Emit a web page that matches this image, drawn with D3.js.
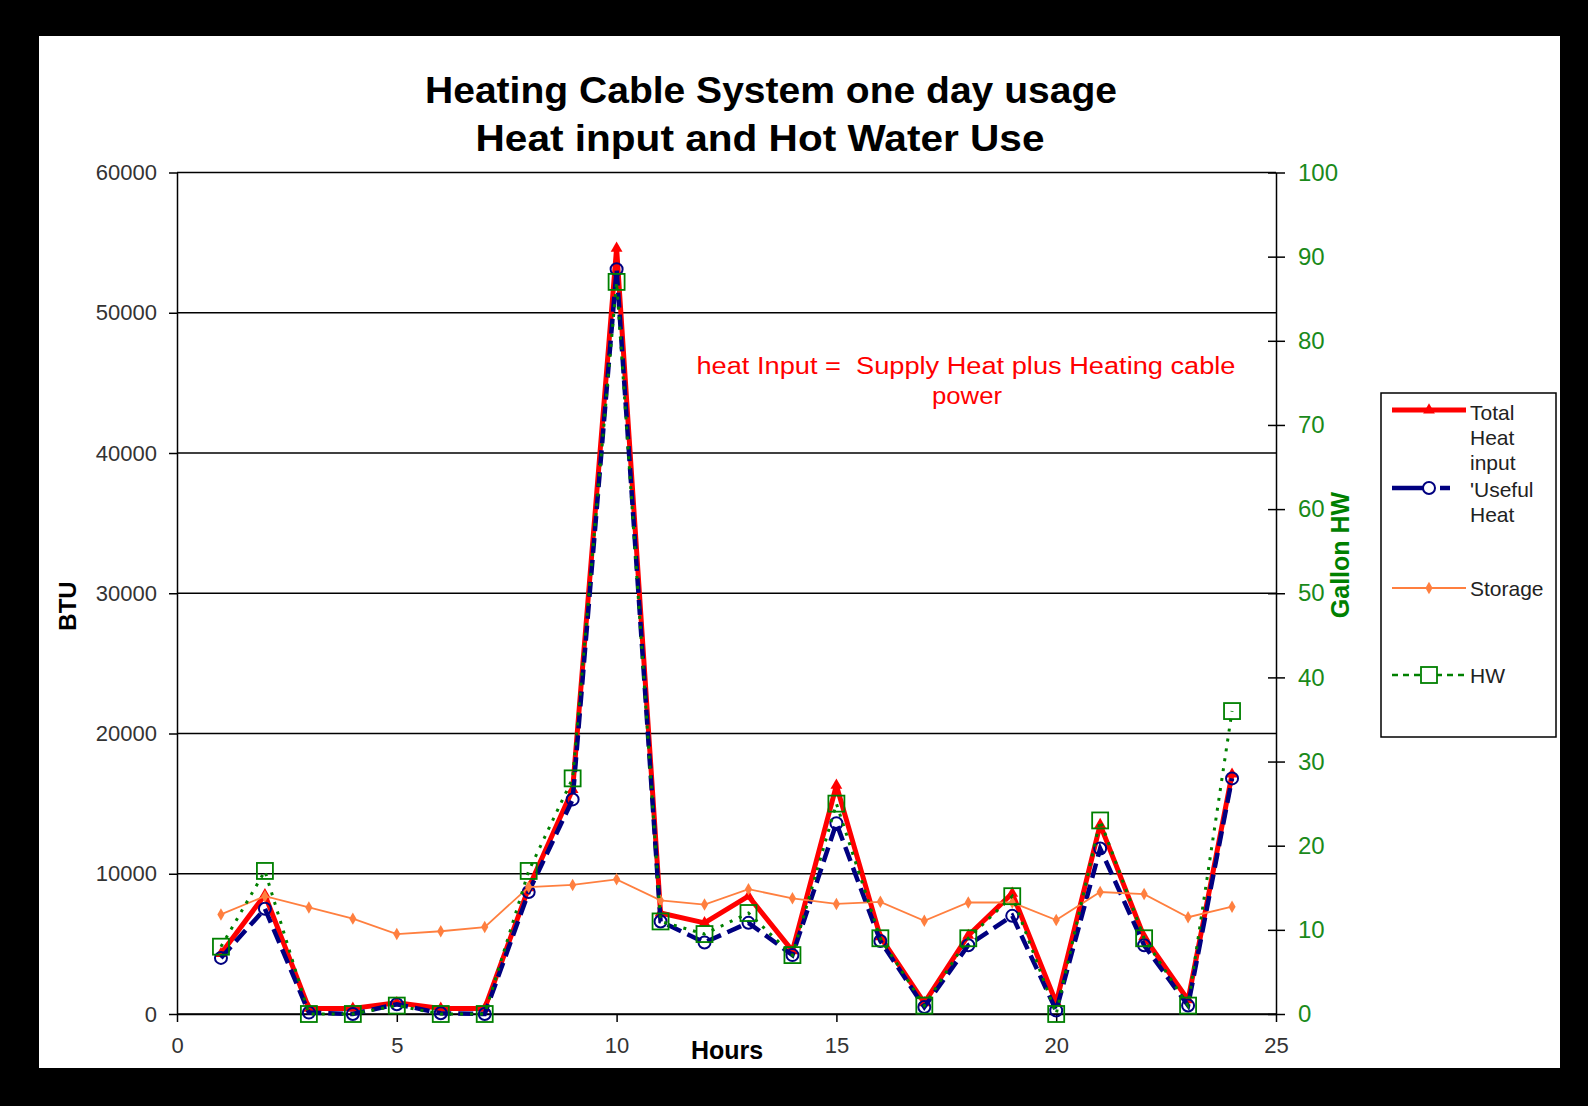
<!DOCTYPE html>
<html><head><meta charset="utf-8">
<script src="https://cdn.jsdelivr.net/npm/d3@7"></script>
<style>html,body{margin:0;padding:0;background:#000;} svg{display:block;}</style>
</head><body>
<svg id="chart" width="1588" height="1106"></svg>
<script>
const hours      = [1,2,3,4,5,6,7,8,9,10,11,12,13,14,15,16,17,18,19,20,21,22,23,24];
const totalHeat  = [4300,8500,400,400,800,400,400,9000,16000,54600,7200,6500,8400,4500,16300,5500,800,5600,8600,800,13500,5500,1000,17100];
const usefulHeat = [4000,7500,100,0,700,50,0,8700,15300,53100,6600,5100,6500,4200,13600,5200,500,4900,7000,250,11800,4900,600,16800];
const storage    = [7100,8400,7600,6800,5700,5900,6200,9050,9200,9600,8100,7800,8900,8250,7850,8000,6650,7950,7950,6700,8700,8550,6900,7650];
const hotWater   = [8,17,0,0,1,0,0,17,28,87,11,9.5,12,7,25,9,1,9,14,0,23,9,1,36];
const btuTicks    = [0,10000,20000,30000,40000,50000,60000];
const gallonTicks = [0,10,20,30,40,50,60,70,80,90,100];
const hourTicks   = [0,5,10,15,20,25];

const FONT = "'Liberation Sans', Arial, sans-serif";
const RED = "#ff0000", NAVY = "#000080", ORANGE = "#ff7f3f", GREEN = "#008000";

const svg = d3.select("#chart");
svg.append("rect").attr("width",1588).attr("height",1106).attr("fill","#000");
svg.append("rect").attr("x",39).attr("y",36).attr("width",1521).attr("height",1032).attr("fill","#fff");

const L=177, R=1276, T=172.5, B=1014;
const x  = d3.scaleLinear().domain([0,25]).range([L,R]);
const yL = d3.scaleLinear().domain([0,60000]).range([B,T]);
const yR = d3.scaleLinear().domain([0,100]).range([B,T]);

// gridlines
svg.append("g").selectAll("line").data(btuTicks).join("line")
  .attr("x1",L).attr("x2",R).attr("y1",d=>yL(d)).attr("y2",d=>yL(d))
  .attr("stroke","#000").attr("stroke-width",1.5);

function styleAxis(g, color){
  g.select(".domain").attr("stroke","#000").attr("stroke-width",1.5);
  g.selectAll(".tick line").attr("stroke","#000").attr("stroke-width",1.5);
  g.selectAll(".tick text").attr("fill",color).style("font-family",FONT);
}
const gl = svg.append("g").attr("transform",`translate(${L},0)`)
  .call(d3.axisLeft(yL).tickValues(btuTicks).tickSize(8).tickPadding(12).tickFormat(d3.format("d")).tickSizeOuter(0));
styleAxis(gl,"#333");
gl.selectAll(".tick text").style("font-size","22px");

const gr = svg.append("g").attr("transform",`translate(${R},0)`)
  .call(d3.axisRight(yR).tickValues(gallonTicks).tickSize(9).tickPadding(13).tickSizeOuter(0));
styleAxis(gr,"#1a8a1a");
gr.selectAll(".tick text").style("font-size","24px");
gr.selectAll(".tick").append("line").attr("x1",-8).attr("x2",0).attr("stroke","#000").attr("stroke-width",1.5);

const gb = svg.append("g").attr("transform",`translate(0,${B})`)
  .call(d3.axisBottom(x).tickValues(hourTicks).tickSize(8).tickPadding(15).tickSizeOuter(0));
styleAxis(gb,"#333");
gb.selectAll(".tick text").style("font-size","22px");

// series
const dataT = hours.map((h,i)=>({h, v: totalHeat[i]}));
const dataU = hours.map((h,i)=>({h, v: usefulHeat[i]}));
const dataS = hours.map((h,i)=>({h, v: storage[i]}));
const dataW = hours.map((h,i)=>({h, v: hotWater[i]}));
const lineL = d3.line().x(d=>x(d.h)).y(d=>yL(d.v));
const lineR = d3.line().x(d=>x(d.h)).y(d=>yR(d.v));

// Total heat
svg.append("path").datum(dataT).attr("d",lineL).attr("fill","none")
  .attr("stroke",RED).attr("stroke-width",5).attr("stroke-linejoin","round");
svg.append("g").selectAll("path").data(dataT).join("path")
  .attr("d",d3.symbol(d3.symbolTriangle).size(60))
  .attr("transform",d=>`translate(${x(d.h)},${yL(d.v)})`).attr("fill",RED);

// Useful heat
svg.append("path").datum(dataU).attr("d",lineL).attr("fill","none")
  .attr("stroke",NAVY).attr("stroke-width",4.5).attr("stroke-dasharray","15,7");
svg.append("g").selectAll("circle").data(dataU).join("circle")
  .attr("cx",d=>x(d.h)).attr("cy",d=>yL(d.v)).attr("r",6)
  .attr("fill","none").attr("stroke",NAVY).attr("stroke-width",2);

// Storage
svg.append("path").datum(dataS).attr("d",lineL).attr("fill","none")
  .attr("stroke",ORANGE).attr("stroke-width",1.8);
svg.append("g").selectAll("path").data(dataS).join("path")
  .attr("d",d3.symbol(d3.symbolDiamond).size(45))
  .attr("transform",d=>`translate(${x(d.h)},${yL(d.v)})`).attr("fill",ORANGE);

// Hot water (right axis)
svg.append("path").datum(dataW).attr("d",lineR).attr("fill","none")
  .attr("stroke",GREEN).attr("stroke-width",3).attr("stroke-dasharray","3,7");
svg.append("g").selectAll("rect").data(dataW).join("rect")
  .attr("x",d=>x(d.h)-8).attr("y",d=>yR(d.v)-8).attr("width",16).attr("height",16)
  .attr("fill","none").attr("stroke",GREEN).attr("stroke-width",1.8);

// titles
function txt(s, xx, yy, size, opts={}){
  const t = svg.append("text").attr("x",xx).attr("y",yy).text(s)
    .attr("text-anchor",opts.anchor||"middle").attr("dominant-baseline","central")
    .style("font-family",FONT).style("font-size",size+"px")
    .style("font-weight",opts.bold?"bold":"normal").attr("fill",opts.color||"#000");
  if(opts.len) t.attr("textLength",opts.len).attr("lengthAdjust","spacingAndGlyphs");
  if(opts.rotate) t.attr("transform",`rotate(-90,${xx},${yy})`);
  return t;
}
txt("Heating Cable System one day usage", 771, 90, 36, {bold:true, len:692});
txt("Heat input and Hot Water Use", 760, 138, 36, {bold:true, len:569});
txt("BTU", 67, 606, 24, {bold:true, rotate:true});
txt("Hours", 727, 1050, 25, {bold:true});
txt("Gallon HW", 1340, 555, 25, {bold:true, color:GREEN, rotate:true});
txt("heat Input =  Supply Heat plus Heating cable", 966, 366, 23, {color:RED, len:539}).style("white-space","pre");
txt("power", 967, 396, 23, {color:RED, len:70});

// legend
svg.append("rect").attr("x",1381).attr("y",393).attr("width",175).attr("height",344)
  .attr("fill","#fff").attr("stroke","#000").attr("stroke-width",1.5);
const lx1=1392, lx2=1466, lm=1429, tx=1470;
const lg = svg.append("g");
// Total
lg.append("line").attr("x1",lx1).attr("x2",lx2).attr("y1",410).attr("y2",410).attr("stroke",RED).attr("stroke-width",5);
lg.append("path").attr("d",d3.symbol(d3.symbolTriangle).size(60)).attr("transform",`translate(${lm},410)`).attr("fill",RED);
// Useful
lg.append("line").attr("x1",lx1).attr("x2",1450).attr("y1",488).attr("y2",488).attr("stroke",NAVY).attr("stroke-width",4.5).attr("stroke-dasharray","37,11,10,40");
lg.append("circle").attr("cx",lm).attr("cy",488).attr("r",6).attr("fill","#fff").attr("stroke",NAVY).attr("stroke-width",2);
// Storage
lg.append("line").attr("x1",lx1).attr("x2",lx2).attr("y1",588).attr("y2",588).attr("stroke",ORANGE).attr("stroke-width",1.8);
lg.append("path").attr("d",d3.symbol(d3.symbolDiamond).size(45)).attr("transform",`translate(${lm},588)`).attr("fill",ORANGE);
// HW
lg.append("line").attr("x1",lx1).attr("x2",lx2).attr("y1",675).attr("y2",675).attr("stroke",GREEN).attr("stroke-width",2.5).attr("stroke-dasharray","6,5");
lg.append("rect").attr("x",lm-8).attr("y",667).attr("width",16).attr("height",16).attr("fill","#fff").attr("stroke",GREEN).attr("stroke-width",1.8);

const legendLines = [
  ["Total",412],["Heat",437],["input",462],
  ["'Useful",489],["Heat",514],
  ["Storage",588],
  ["HW",675]
];
lg.selectAll("text").data(legendLines).join("text")
  .attr("x",tx).attr("y",d=>d[1]).text(d=>d[0])
  .attr("dominant-baseline","central").style("font-family",FONT).style("font-size","21px").attr("fill","#222");
</script>
</body></html>
